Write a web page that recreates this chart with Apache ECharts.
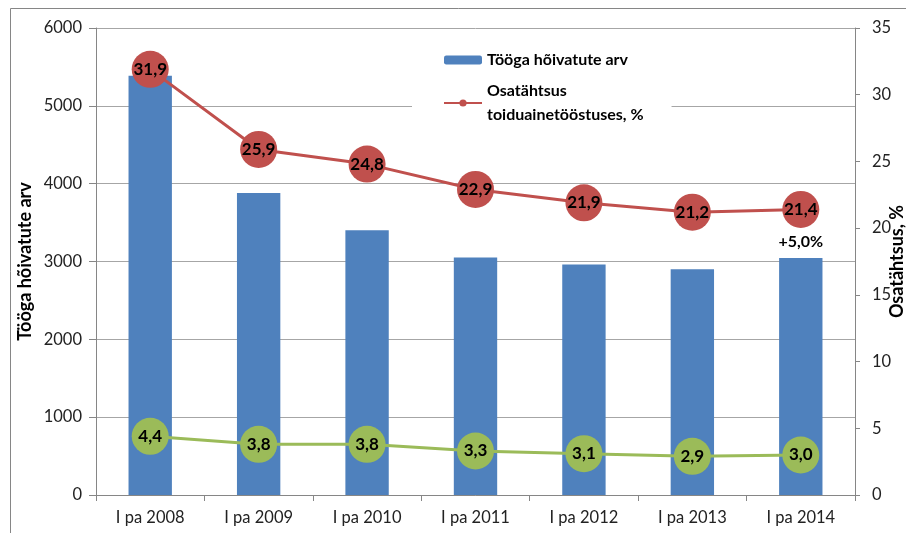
<!DOCTYPE html>
<html>
<head>
<meta charset="utf-8">
<script src="https://cdn.jsdelivr.net/npm/echarts@6/dist/echarts.min.js"></script>
<style>
  html, body { margin: 0; padding: 0; background: #fff; }
  #chartContainer { width: 906px; height: 533px; }
</style>
</head>
<body>
<div id="chartContainer"></div>
<script>
var categories = ['I pa 2008', 'I pa 2009', 'I pa 2010', 'I pa 2011', 'I pa 2012', 'I pa 2013', 'I pa 2014'];
var employed = [5385, 3880, 3400, 3050, 2960, 2900, 3045];
var shareFood = [31.9, 25.9, 24.8, 22.9, 21.9, 21.2, 21.4];
var shareOther = [4.4, 3.8, 3.8, 3.3, 3.1, 2.9, 3.0];
var lastChange = '+5,0%';

var barName = 'Tööga hõivatute arv';
var lineName = 'Osatähtsus\ntoiduainetööstuses, %';

var font = 'Lato, "Open Sans", sans-serif';

var chart = echarts.init(document.getElementById('chartContainer'));

function fmt(v) {
    return v.toFixed(1).replace('.', ',');
}

var barData = employed.map(function (v, i) {
    if (i === employed.length - 1) {
        return {
            value: v,
            label: {
                show: true, position: 'top', distance: 8,
                formatter: lastChange,
                fontFamily: font, fontSize: 16, fontWeight: 'bold', color: '#000'
            }
        };
    }
    return v;
});

var circleLabel = {
    show: true, position: 'inside',
    formatter: function (p) { return fmt(p.value); },
    fontFamily: font, fontSize: 17, fontWeight: 'bold', color: '#000'
};

chart.setOption({
    animation: false,
    textStyle: { fontFamily: font },
    graphic: [{
        type: 'rect',
        shape: { x: 10.5, y: 8.5, width: 1000, height: 1000 },
        style: { fill: 'none', stroke: '#868686', lineWidth: 1 },
        silent: true
    }],
    grid: {
        left: 96, right: 51, top: 28, bottom: 38,
        containLabel: false,
        outerBoundsMode: 'none'
    },
    legend: {
        data: [
            { name: barName, textStyle: { lineHeight: 24 } },
            { name: lineName, textStyle: { lineHeight: 24, padding: [22, 0, 0, 0] } }
        ],
        orient: 'vertical',
        left: 412, top: 30,
        padding: [18, 28, 14, 31],
        itemGap: -4,
        itemWidth: 38, itemHeight: 9,
        backgroundColor: '#fff',
        textStyle: { fontFamily: font, fontSize: 16, fontWeight: 'bold', color: '#000' }
    },
    xAxis: {
        type: 'category',
        data: categories,
        axisLine: { lineStyle: { color: '#868686' } },
        axisTick: { show: true, length: 6, lineStyle: { color: '#868686' } },
        axisLabel: { color: '#222', fontSize: 16.5, margin: 14, fontFamily: font }
    },
    yAxis: [{
        type: 'value',
        min: 0, max: 6000, interval: 1000,
        name: 'Tööga hõivatute arv',
        nameLocation: 'middle',
        nameGap: 62,
        nameMoveOverlap: false,
        nameTextStyle: { fontFamily: font, fontSize: 18, fontWeight: 'bold', color: '#000' },
        axisLine: { show: true, lineStyle: { color: '#868686' } },
        axisTick: { show: true, length: 7, lineStyle: { color: '#868686' } },
        axisLabel: { color: '#222', fontSize: 16.5, margin: 14, fontFamily: font,
            formatter: function (v) { return String(v); } },
        splitLine: { lineStyle: { color: '#a6a6a6' } }
    }, {
        type: 'value',
        min: 0, max: 35, interval: 5,
        name: 'Osatähtsus, %',
        nameLocation: 'middle',
        nameGap: 33,
        nameRotate: 90,
        nameMoveOverlap: false,
        nameTextStyle: { fontFamily: font, fontSize: 18, fontWeight: 'bold', color: '#000' },
        axisLine: { show: true, lineStyle: { color: '#868686' } },
        axisTick: { show: true, length: 5, lineStyle: { color: '#868686' } },
        axisLabel: { color: '#222', fontSize: 16.5, margin: 17, fontFamily: font },
        splitLine: { show: false }
    }],
    series: [{
        name: barName,
        type: 'bar',
        data: barData,
        barWidth: '40%',
        itemStyle: { color: '#4F81BD' },
        z: 1
    }, {
        name: lineName,
        type: 'line',
        yAxisIndex: 1,
        data: shareFood,
        symbol: 'circle',
        symbolSize: 37,
        lineStyle: { color: '#C0504D', width: 3 },
        itemStyle: { color: '#C0504D' },
        label: circleLabel,
        z: 3
    }, {
        name: 'muu',
        type: 'line',
        yAxisIndex: 1,
        data: shareOther,
        symbol: 'circle',
        symbolSize: 37,
        lineStyle: { color: '#9BBB59', width: 3 },
        itemStyle: { color: '#9BBB59' },
        label: circleLabel,
        z: 3
    }]
});
</script>
</body>
</html>
